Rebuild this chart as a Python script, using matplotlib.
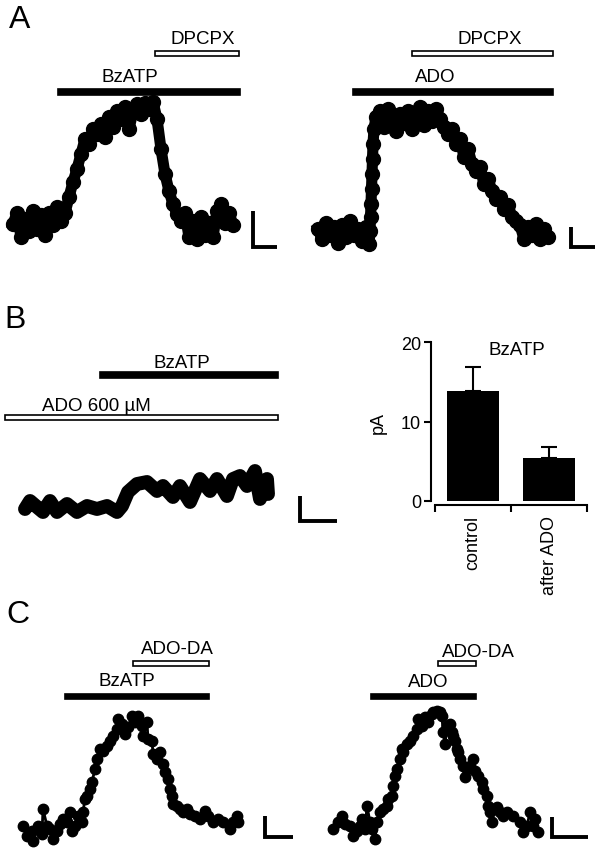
import numpy as np
import matplotlib
matplotlib.use('Agg')
import matplotlib.pyplot as plt

plt.rcParams['font.family'] = ['Liberation Sans', 'DejaVu Sans']
plt.rcParams['font.size'] = 12.5

# ---- data (time in s, current in pA) ----
# A, left: BzATP then DPCPX
a_left_t = np.arange(0, 221, 4)
a_left_i = [0, 11, -13, 5, -7, 13, -5, 9, -11, 11, -1, 17, 3, 11, 27, 42, 55, 70, 85, 80,
            95, 90, 100, 87, 107, 97, 113, 105, 117, 95, 113, 120, 110, 121, 115, 122, 105, 75, 50, 33,
            20, 10, 3, 11, -13, 3, -15, 7, -11, 1, -13, 13, 20, 1, 11, -1]

# A, right: ADO then DPCPX
a_right_t = [0, 4, 8, 12, 16, 20, 24, 28, 32, 36, 40, 44, 48,
             51, 52, 52.5, 53, 53.5, 54, 54.5, 55, 56, 58] + list(range(62, 231, 4))
a_right_i = [3, -7, 9, -3, 5, -11, 7, -5, 11, -3, 3, -9, 5,
             -12, 1, 15, 28, 43, 58, 73, 88, 103, 115,
             121, 105, 123, 111, 101, 118, 109, 121, 103, 115, 125, 107, 121, 111, 123, 113, 105, 98,
             103, 88, 93, 75, 83, 68, 61, 65, 48, 53, 41, 33, 35, 23, 27, 15, 11, 7, -7, 5, -3, 8,
             -7, 3, -5]

# B, left: BzATP in presence of ADO 600 uM
b_t = [0, 5, 12, 18, 25, 32, 42, 52, 62, 72, 82, 92, 97, 103, 112, 122, 132, 138, 148, 155,
       165, 175, 185, 192, 202, 208, 215, 222, 230, 235, 242, 243]
b_i = [0, 8, 2, -3, 8, -3, 5, -3, 3, 0, 3, -3, 3, 17, 25, 27, 18, 23, 12, 23,
       7, 30, 18, 30, 13, 30, 33, 23, 38, 10, 30, 15]

# B, right: summary
groups = ['control', 'after ADO']
mean_pa = [13.8, 5.4]
sem_pa = [3.1, 1.4]

# C, left: BzATP then ADO-DA
c_left_t = [1, 5, 10, 11, 16, 20, 21, 25, 28, 31, 35, 38, 41, 45, 48, 50, 53, 56, 60, 61,
            63, 65, 68, 70, 73, 75, 78, 81, 85, 88, 91, 95, 96, 100, 103, 106, 110, 113, 116, 120,
            121, 125, 126, 130, 131, 135, 138, 141, 143, 146, 148, 150, 151, 155, 158, 161, 165, 168,
            173, 178, 183, 186, 191, 196, 201, 208, 211, 215, 216]
c_left_i = [3, -7, -2, -12, 3, -5, 20, 3, 0, -10, -2, 5, 10, 7, 17, -2, 3, 13, 7, 17,
            30, 33, 40, 47, 60, 70, 80, 78, 83, 88, 93, 100, 110, 105, 95, 102, 113, 107, 113, 103,
            93, 107, 90, 88, 75, 70, 77, 65, 57, 50, 40, 33, 25, 23, 20, 17, 20, 15, 13, 10,
            18, 13, 7, 10, 7, 0, 7, 13, 7]

# C, right: ADO then ADO-DA
c_right_t = [1, 6, 10, 13, 18, 21, 25, 28, 30, 33, 35, 38, 40, 43, 45, 48, 51, 55, 56, 60,
             61, 63, 65, 68, 70, 71, 75, 78, 81, 85, 86, 90, 93, 96, 100, 101, 105, 108, 110, 111,
             113, 115, 118, 120, 121, 123, 125, 126, 128, 131, 133, 135, 138, 141, 143, 146, 150, 151,
             155, 156, 158, 160, 161, 165, 168, 171, 175, 181, 188, 191, 195, 198, 201, 203, 206]
c_right_i = [0, 7, 13, 5, 3, -7, -2, 3, 10, 0, 23, 7, 0, -10, 7, 17, 20, 23, 30, 33,
             43, 53, 60, 70, 80, 77, 85, 88, 93, 100, 110, 103, 112, 107, 115, 117, 118, 117, 113, 97,
             85, 103, 105, 97, 93, 88, 80, 77, 70, 63, 52, 60, 63, 70, 58, 53, 47, 40, 33, 23,
             17, 7, 20, 22, 17, 13, 17, 13, 7, -3, 3, 17, 3, 10, -3]

W, H = 600, 853
fig = plt.figure(figsize=(6, 8.53), dpi=100)


def trace_axes(left, top, width, height, x0, y0):
    # axes placed by pixel box; x0/y0 are the pixel positions of t=0 and I=0
    ax = fig.add_axes([left / W, 1 - (top + height) / H, width / W, height / H])
    ax.set_xlim(left - x0, left + width - x0)
    ax.set_ylim(y0 - (top + height), y0 - top)
    ax.axis('off')
    return ax


def drug_bar(ax, start, stop, level, filled, h=6):
    ax.barh(level, stop - start, left=start, height=h,
            color='black' if filled else 'white', edgecolor='black', linewidth=1.2)


def scale_bar(ax, x, y, dx, dy, lw=2.8):
    ax.plot([x, x, x + dx], [y + dy, y, y], color='black', lw=lw,
            solid_capstyle='butt', solid_joinstyle='miter')


# ---- A left ----
ax = trace_axes(0, 25, 300, 235, 13, 225)
ax.plot(a_left_t, a_left_i, '-o', color='black', lw=8, ms=10)
drug_bar(ax, 45, 227, 132, True)
drug_bar(ax, 142, 226, 170.5, False, h=5)
ax.text(190, 185, 'DPCPX', ha='center', va='center', fontsize=13.5)
ax.text(117, 147, 'BzATP', ha='center', va='center', fontsize=13.5)
scale_bar(ax, 240, -23, 24, 36)

# ---- A right ----
ax = trace_axes(300, 25, 300, 235, 318, 233)
ax.plot(a_right_t, a_right_i, '-o', color='black', lw=8, ms=10)
drug_bar(ax, 35, 235, 140, True)
drug_bar(ax, 94, 235, 178.5, False, h=5)
ax.text(172, 193, 'DPCPX', ha='center', va='center', fontsize=13.5)
ax.text(117, 155, 'ADO', ha='center', va='center', fontsize=13.5)
scale_bar(ax, 253, -15, 24, 20)

# ---- B left ----
ax = trace_axes(0, 340, 350, 200, 25, 510)
ax.plot(b_t, b_i, '-', color='black', lw=10, solid_capstyle='round', solid_joinstyle='round')
drug_bar(ax, 75, 253, 134, True)
drug_bar(ax, -20, 253, 91.5, False, h=5)
ax.text(157, 146, 'BzATP', ha='center', va='center', fontsize=13.5)
ax.text(17, 103, 'ADO 600 µM', ha='left', va='center', fontsize=13.5)
scale_bar(ax, 275, -12, 37, 25)

# ---- B right: bar chart ----
bx = fig.add_axes([435 / W, 1 - 502 / H, 152 / W, 159 / H])
bx.bar([0.5, 1.5], mean_pa, width=0.68, color='black')
bx.errorbar([0.5, 1.5], mean_pa, yerr=[[0, 0], sem_pa], fmt='none', ecolor='black',
            elinewidth=1.5, capsize=6, capthick=1.5)
bx.set_xlim(0, 2)
bx.set_ylim(0, 20)
for s in ['top', 'right']:
    bx.spines[s].set_visible(False)
for s in ['left', 'bottom']:
    bx.spines[s].set_position(('outward', 3))
    bx.spines[s].set_linewidth(1.5)
bx.set_yticks([0, 10, 20])
bx.set_xticks([0, 1, 2])
bx.set_xticklabels([])
bx.set_xticks([0.5, 1.5], minor=True)
bx.set_xticklabels(groups, minor=True, rotation=90, va='top')
bx.tick_params(axis='both', which='major', length=5, width=1.5, labelsize=13)
bx.tick_params(axis='y', pad=2)
bx.tick_params(axis='x', which='minor', length=0, pad=7, labelsize=13)
bx.set_ylabel('pA', labelpad=10, fontsize=13)
bx.text(1.08, 19.1, 'BzATP', ha='center', va='center', fontsize=13.5)

# ---- C left ----
ax = trace_axes(0, 630, 300, 223, 22, 830)
ax.plot(c_left_t, c_left_i, '-o', color='black', lw=2, ms=7.5)
drug_bar(ax, 43, 187, 132.5, True, h=5)
drug_bar(ax, 111, 187, 165.5, False, h=5)
ax.text(155, 180, 'ADO-DA', ha='center', va='center', fontsize=13.5)
ax.text(105, 148, 'BzATP', ha='center', va='center', fontsize=13.5)
scale_bar(ax, 243, -8, 28, 21)

# ---- C right ----
ax = trace_axes(300, 630, 300, 223, 332, 830)
ax.plot(c_right_t, c_right_i, '-o', color='black', lw=2, ms=7.5)
drug_bar(ax, 39, 144, 132.5, True, h=5)
drug_bar(ax, 106, 144, 165.5, False, h=5)
ax.text(110, 177, 'ADO-DA', ha='left', va='center', fontsize=13.5)
ax.text(96, 147, 'ADO', ha='center', va='center', fontsize=13.5)
scale_bar(ax, 220, -8, 36, 20)

# panel letters
for letter, (px, py) in zip('ABC', [(20, 20), (15, 320), (18, 615)]):
    fig.text(px / W, 1 - py / H, letter, ha='center', va='center', fontsize=23)

fig.savefig('out.png', dpi=100)
